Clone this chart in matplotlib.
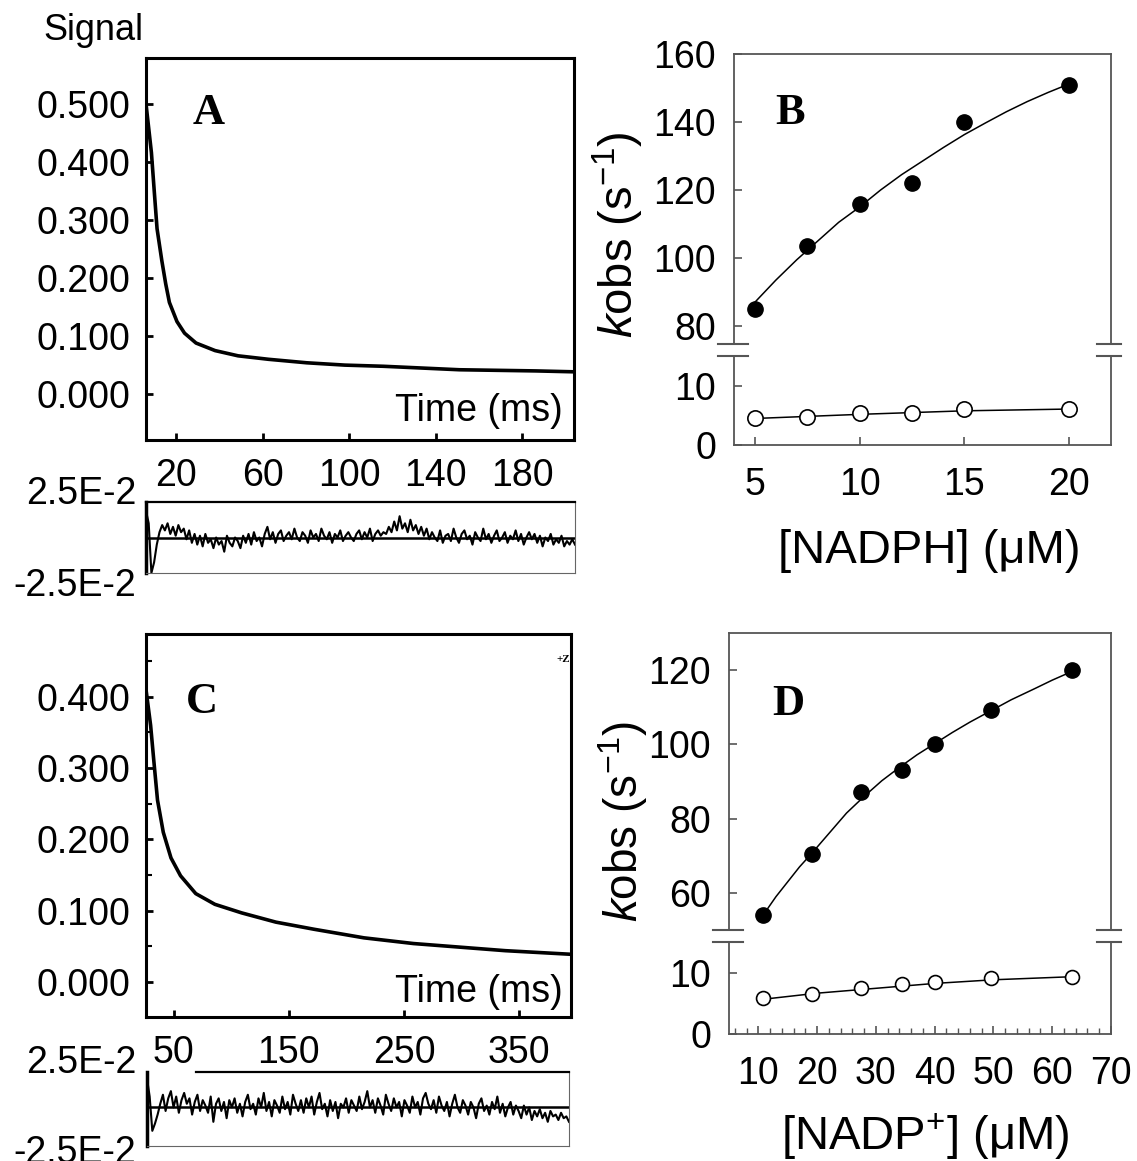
import numpy as np
import matplotlib
matplotlib.use('Agg')
import matplotlib.pyplot as plt

W, H = 1137, 1161

# ---- panel A: trace (time ms, signal) ----
a_time = [6.2, 8.7, 10.0, 11.3, 13.5, 15.3, 17.0, 20.5, 24.0, 29.3, 38.1, 48.7,
          62.8, 80.4, 98.0, 115.7, 133.3, 150.9, 168.5, 186.2, 203.2]
a_signal = [0.500, 0.416, 0.350, 0.285, 0.230, 0.190, 0.158, 0.125, 0.105, 0.088,
            0.075, 0.066, 0.060, 0.054, 0.050, 0.048, 0.045, 0.042, 0.041, 0.040, 0.0385]
a_xticks = [20, 60, 100, 140, 180]
a_yticks = [0.0, 0.1, 0.2, 0.3, 0.4, 0.5]
# residuals, x1e-3, 160 samples evenly spread over the time window
a_resid = [15, 8, -20, -14, -4, 3, 7, 4, 8, 2, 6, 1, 7, 3, 5, -1, 4, -3, 2, -4,
           1, -5, 2, -3, -1, -6, 0, -4, -2, -8, 1, -3, -5, 0, -2, -6, 1, -3, 2, -4,
           3, -2, 0, -5, 2, 6, -1, 3, -3, 2, 4, -2, 1, 3, -1, 5, 0, -2, 3, 1,
           -3, 4, 0, 2, -2, 5, 1, -1, 3, -3, 2, 0, 4, -2, 1, 3, 0, -2, 2, 4,
           -1, 3, 0, 5, -2, 2, 4, 1, 3, 2,
           6, 3, 9, 4, 12, 5, 8, 3, 10, 4, 7, 2, 6, 1, 5,
           -1, 3, 0, -2, 4, -3, 1, 2, -2, 5, 0, -3, 2, 4, -1,
           1, -4, 3, 0, -2, 5, -1, 2, -3, 1, 4, -2, 0, 3, -3, 1, -1, 4, -2, 2,
           -4, 0, 3, -1, 2, -3, 1, -5, 0, -2, 2, -4, -1, -3, 1, -5, -2, -4, -1, -4]

# ---- panel C: trace ----
c_time = [26.0, 30.0, 32.8, 36.0, 41.0, 47.7, 56.0, 69.2, 85.8, 109.0, 138.8,
          172.0, 215.2, 258.2, 298.0, 337.9, 394.2]
c_signal = [0.410, 0.360, 0.310, 0.255, 0.210, 0.174, 0.149, 0.124, 0.109, 0.097,
            0.084, 0.074, 0.062, 0.054, 0.049, 0.044, 0.039]
c_xticks = [50, 150, 250, 350]
c_yticks = [0.0, 0.1, 0.2, 0.3, 0.4]
c_resid = [16, 6, -13, -9, -4, 2, 7, -2, 5, 9, 0, 6, -3, 4, 8, 2, 5, -4, 3, 7,
           -2, 4, 1, -3, 6, -8, 2, 5, -2, 3, -6, 4, 0, 5, -3, 2, -5, 3, 7, -1,
           2, -4, 5, 0, 8, -2, 3, -5, 4, 1, -3, 6, -1, 3, -4, 7, 2, -2, 4, -3,
           5, 0, 6, -4, 3, 8, -1, 2, -5, 4, -2, 3, -6, 2, 0, 5, -3, 4, 1, -2,
           6, -1, 3, 9, 0, 4, -3, 5, 1, -4, 7, 2, -2, 5, 0, 3, -5, 4, 1, -3,
           6, 0, 3, -4, 5, 8, 2, -1, 4, -3, 6, 1, -2, 3, -5, 2, 7, 0, -3, 4,
           1, -4, 3, 0, -6, 2, 5, -2, 1, -4, 3, -1, 6, -3, 2, -5, 0, 3, -4, 1,
           -2, -6, 1, -4, 0, -7, -2, -5, -1, -6, -3, -8, -2, -5, -4, -7, -3, -6, -5, -8]

# ---- panel B: kobs vs [NADPH] ----
b_conc = [5, 7.5, 10, 12.5, 15, 20]
b_fast = [85, 103.5, 116, 122, 140, 151]
b_slow = [4.5, 4.7, 5.4, 5.4, 6.1, 6.1]
b_fit_x = [5, 6, 7, 8, 9, 10, 11, 12, 13, 14, 15, 16, 17, 18, 19, 20]
b_fit_fast = [87, 93.5, 99.5, 105, 110.5, 115, 120, 124.5, 128.5, 132.5, 136.3,
              139.7, 143, 146, 148.7, 151.2]
b_fit_slow_x = [5, 10, 15, 20]
b_fit_slow = [4.5, 5.2, 5.8, 6.1]

# ---- panel D: kobs vs [NADP+] ----
d_conc = [10.8, 19.1, 27.4, 34.4, 40.0, 49.5, 63.3]
d_fast = [54.0, 70.5, 87.2, 93.2, 100.2, 109.3, 120.0]
d_slow = [5.9, 6.6, 7.5, 8.25, 8.5, 9.2, 9.4]
d_fit_x = [10.8, 13, 15, 17, 19, 22, 25, 28, 31, 34, 37, 40, 43, 46, 49.5, 53, 57, 60, 63.3]
d_fit_fast = [54, 59, 63, 67, 70.5, 76, 81.5, 86, 90.2, 93.8, 97.2, 100.2, 103.2,
              106, 109, 112, 115, 117.3, 119.6]
d_fit_slow_x = [10.8, 20, 30, 40, 50, 63.3]
d_fit_slow = [5.7, 6.7, 7.5, 8.3, 8.9, 9.4]

plt.rcParams['font.family'] = ['Liberation Sans', 'DejaVu Sans']
plt.rcParams['mathtext.fontset'] = 'custom'
plt.rcParams['mathtext.rm'] = 'Liberation Sans'
plt.rcParams['mathtext.it'] = 'Liberation Sans:italic'

GRAY = '#555555'


def px_axes(fig, left, top, right, bottom):
    return fig.add_axes([left / W, 1 - bottom / H, (right - left) / W, (bottom - top) / H])


def fig_text(fig, x, y, s, **kw):
    fig.text(x / W, 1 - y / H, s, **kw)


def trace_panel(ax, t, sig, xlim, ylim, xticks, yticks):
    ax.plot(t, sig, color='black', lw=2.6)
    ax.set_xlim(*xlim)
    ax.set_ylim(*ylim)
    ax.set_xticks(xticks)
    ax.set_yticks(yticks)
    ax.set_yticklabels(['%.3f' % v for v in yticks])
    for sp in ax.spines.values():
        sp.set_linewidth(2.2)
    ax.tick_params(direction='in', length=5, width=2, labelsize=27)
    ax.tick_params(axis='y', pad=11)
    ax.tick_params(axis='x', pad=13)


def resid_panel(ax, resid, xlim, ylim):
    t = np.linspace(xlim[0], xlim[1], len(resid))
    ax.plot(t, np.array(resid) * 1e-3, color='black', lw=1.5)
    ax.axhline(0, color='black', lw=1.8)
    ax.set_xlim(*xlim)
    ax.set_ylim(*ylim)
    ax.set_xticks([])
    ax.set_yticks([])
    ax.spines['left'].set_linewidth(2.5)
    ax.spines['top'].set_linewidth(1.6)
    ax.spines['right'].set_linewidth(0.8)
    ax.spines['bottom'].set_linewidth(0.8)
    ax.spines['right'].set_color('#666666')
    ax.spines['bottom'].set_color('#666666')


def broken_panel(ax_up, ax_lo, xlim, up_lim, lo_lim, up_ticks, xticks, minor=None):
    for ax in (ax_up, ax_lo):
        ax.set_xlim(*xlim)
        for sp in ax.spines.values():
            sp.set_color(GRAY)
            sp.set_linewidth(1.3)
        ax.tick_params(direction='in', length=6, width=1.2, color=GRAY,
                       labelsize=27, pad=13)
    ax_up.spines['bottom'].set_visible(False)
    ax_lo.spines['top'].set_visible(False)
    ax_up.set_ylim(*up_lim)
    ax_lo.set_ylim(*lo_lim)
    ax_up.set_yticks(up_ticks)
    ax_lo.set_yticks([0, 10])
    ax_up.set_xticks([])
    ax_lo.set_xticks(xticks)
    ax_lo.tick_params(axis='x', pad=16)
    if minor is not None:
        ax_lo.set_xticks(minor, minor=True)
        ax_lo.tick_params(axis='x', which='minor', direction='in', length=4,
                          width=1.0, color=GRAY)
    kw = dict(color=GRAY, lw=1.5, clip_on=False)
    for x0, x1 in ((-0.042, 0.037), (0.963, 1.027)):
        ax_up.plot([x0, x1], [0, 0], transform=ax_up.transAxes, **kw)
        ax_lo.plot([x0, x1], [1, 1], transform=ax_lo.transAxes, **kw)


fig = plt.figure(figsize=(W / 100, H / 100), dpi=100)

# A
axA = px_axes(fig, 146, 58, 574, 440)
trace_panel(axA, a_time, a_signal, (6.2, 203.8), (-0.079, 0.579), a_xticks, a_yticks)
fig_text(fig, 209, 113, 'A', fontsize=32, fontweight='bold', family='Liberation Serif',
         ha='center', va='center')
fig_text(fig, 563, 411, 'Time (ms)', fontsize=27, ha='right', va='center')
fig_text(fig, 93, 31, 'Signal', fontsize=26, ha='center', va='center')

axAr = px_axes(fig, 146, 502, 575, 573)
resid_panel(axAr, a_resid, (6.2, 203.8), (-0.020, 0.020))
fig_text(fig, 136, 494, '2.5E-2', fontsize=27, ha='right', va='center')
fig_text(fig, 136, 586, '-2.5E-2', fontsize=27, ha='right', va='center')

# C
axC = px_axes(fig, 146, 634, 571, 1017)
trace_panel(axC, c_time, c_signal, (26, 395), (-0.049, 0.488), c_xticks, c_yticks)
axC.set_yticks(np.arange(0, 0.5, 0.05), minor=True)
axC.tick_params(axis='y', which='minor', direction='in', length=4, width=1.5)
fig_text(fig, 202, 702, 'C', fontsize=32, fontweight='bold', family='Liberation Serif',
         ha='center', va='center')
fig_text(fig, 563, 992, 'Time (ms)', fontsize=27, ha='right', va='center')
fig_text(fig, 563, 660, '+Z', fontsize=8, fontweight='bold', family='Liberation Serif',
         ha='center', va='center')

axCr = px_axes(fig, 147, 1072, 569, 1146)
resid_panel(axCr, c_resid, (26, 395), (-0.0214, 0.0196))
axCr.spines['top'].set_bounds(69, 395)
fig_text(fig, 136, 1063, '2.5E-2', fontsize=27, ha='right', va='center')
fig_text(fig, 136, 1153, '-2.5E-2', fontsize=27, ha='right', va='center')

# B
axBu = px_axes(fig, 734, 54, 1111, 344)
axBl = px_axes(fig, 734, 356, 1111, 445)
broken_panel(axBu, axBl, (4, 22), (74.7, 160), (0, 15.1), [80, 100, 120, 140, 160],
             [5, 10, 15, 20])
axBu.plot(b_fit_x, b_fit_fast, color='black', lw=1.1)
axBu.plot(b_conc, b_fast, 'o', color='black', ms=11)
axBl.plot(b_fit_slow_x, b_fit_slow, color='black', lw=1.1)
axBl.plot(b_conc, b_slow, 'o', mfc='white', mec='black', mew=1.2, ms=11)
fig_text(fig, 790, 113, 'B', fontsize=32, fontweight='bold', family='Liberation Serif',
         ha='center', va='center')
fig_text(fig, 618, 235, r'$k$obs (s$^{-1}$)', fontsize=34, rotation=90,
         ha='center', va='center')
fig_text(fig, 929, 551, '[NADPH] (\u03bcM)', fontsize=34, ha='center', va='center')

# D
axDu = px_axes(fig, 729, 633, 1111, 930)
axDl = px_axes(fig, 729, 942, 1111, 1034)
broken_panel(axDu, axDl, (5, 70), (50, 130), (0, 15.1), [60, 80, 100, 120],
             [10, 20, 30, 40, 50, 60, 70], minor=np.arange(6, 70, 2))
axDu.plot(d_fit_x, d_fit_fast, color='black', lw=1.1)
axDu.plot(d_conc, d_fast, 'o', color='black', ms=11)
axDl.plot(d_fit_slow_x, d_fit_slow, color='black', lw=1.1)
axDl.plot(d_conc, d_slow, 'o', mfc='white', mec='black', mew=1.2, ms=10)
fig_text(fig, 788, 704, 'D', fontsize=32, fontweight='bold', family='Liberation Serif',
         ha='center', va='center')
fig_text(fig, 623, 822, r'$k$obs (s$^{-1}$)', fontsize=33, rotation=90,
         ha='center', va='center')
fig_text(fig, 925, 1137, '[NADP$^{+}$] (\u03bcM)', fontsize=34,
         ha='center', va='center')

fig.savefig('out.png', dpi=100)
